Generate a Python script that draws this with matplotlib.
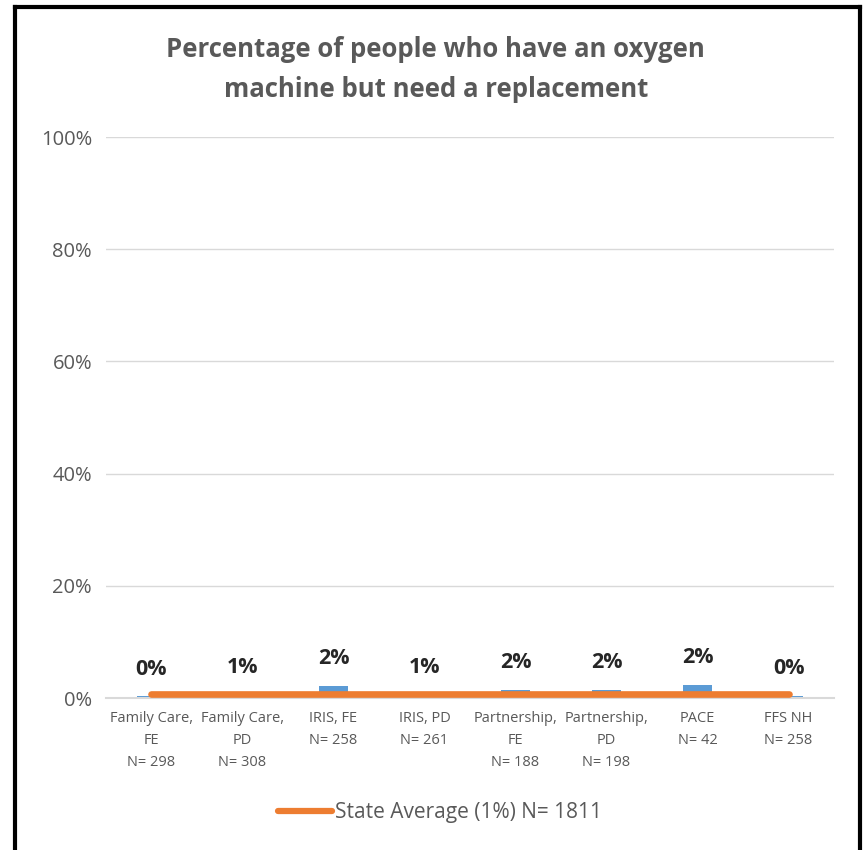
import matplotlib.pyplot as plt
from matplotlib import font_manager
from matplotlib.lines import Line2D

# font: prefer a narrow one close to Calibri
names = {f.name for f in font_manager.fontManager.ttflist}
font = 'Liberation Sans Narrow' if 'Liberation Sans Narrow' in names else 'Open Sans'
plt.rcParams['font.family'] = [font, 'DejaVu Sans']

# data
categories = ['Family Care,\nFE\nN= 298', 'Family Care,\nPD\nN= 308', 'IRIS, FE\nN= 258',
              'IRIS, PD\nN= 261', 'Partnership,\nFE\nN= 188', 'Partnership,\nPD\nN= 198',
              'PACE\nN= 42', 'FFS NH\nN= 258']
values = [0.3, 0.6, 2.2, 0.6, 1.5, 1.5, 2.4, 0.4]
value_labels = ['0%', '1%', '2%', '1%', '2%', '2%', '2%', '0%']
state_avg = 0.7
legend_label = 'State Average (1%) N= 1811'
title = 'Percentage of people who have an oxygen\nmachine but need a replacement'

gray = '#595959'
blue = '#5B9BD5'
orange = '#ED7D31'

fig = plt.figure(figsize=(8.63, 8.5), dpi=100)
ax = fig.add_axes([0.1228, 0.1788, 0.8436, 0.66])

x = list(range(len(categories)))
ax.bar(x, values, width=0.32, color=blue, zorder=2)
ax.plot(x, [state_avg] * len(x), color=orange, linewidth=4.8, solid_capstyle='round', zorder=3)

for xi, v, lab in zip(x, values, value_labels):
    ax.annotate(lab, (xi, v), xytext=(0, 12), textcoords='offset points',
                ha='center', va='bottom', fontsize=15.5, fontweight='bold', color='#262626')

ax.set_xlim(-0.5, len(x) - 0.5)
ax.set_ylim(0, 100)
ax.set_yticks(range(0, 101, 20))
ax.set_yticklabels([f'{t}%' for t in range(0, 101, 20)], fontsize=14.5, color=gray)
ax.set_xticks(x)
ax.set_xticklabels(categories, fontsize=10.5, color=gray, linespacing=1.65)
ax.tick_params(axis='both', length=0)
ax.tick_params(axis='y', pad=10)
ax.tick_params(axis='x', pad=9)
ax.grid(axis='y', color='#D9D9D9', linewidth=1, zorder=0)
for s in ['top', 'right', 'left']:
    ax.spines[s].set_visible(False)
ax.spines['bottom'].set_color('#D9D9D9')
ax.spines['bottom'].set_linewidth(1.5)
ax.spines['bottom'].set_zorder(2.5)

fig.text(0.505, 0.958, title, ha='center', va='top', fontsize=18.5, fontweight='bold',
         color=gray, linespacing=1.65)

handle = Line2D([], [], color=orange, linewidth=4.5, solid_capstyle='round')
fig.legend([handle], [legend_label], loc='center', bbox_to_anchor=(0.51, 0.044),
           frameon=False, fontsize=15, labelcolor=gray, handlelength=2.6, handletextpad=0.15)

# black frame around the chart (bottom edge cut off)
fig.add_artist(Line2D([15 / 863, 15 / 863], [0, 1 - 7 / 850], color='black', linewidth=3,
                      transform=fig.transFigure))
fig.add_artist(Line2D([15 / 863, 860 / 863], [1 - 7 / 850, 1 - 7 / 850], color='black', linewidth=3,
                      transform=fig.transFigure))
fig.add_artist(Line2D([860 / 863, 860 / 863], [0, 1 - 7 / 850], color='black', linewidth=3,
                      transform=fig.transFigure))

fig.savefig('out.png', dpi=100)
